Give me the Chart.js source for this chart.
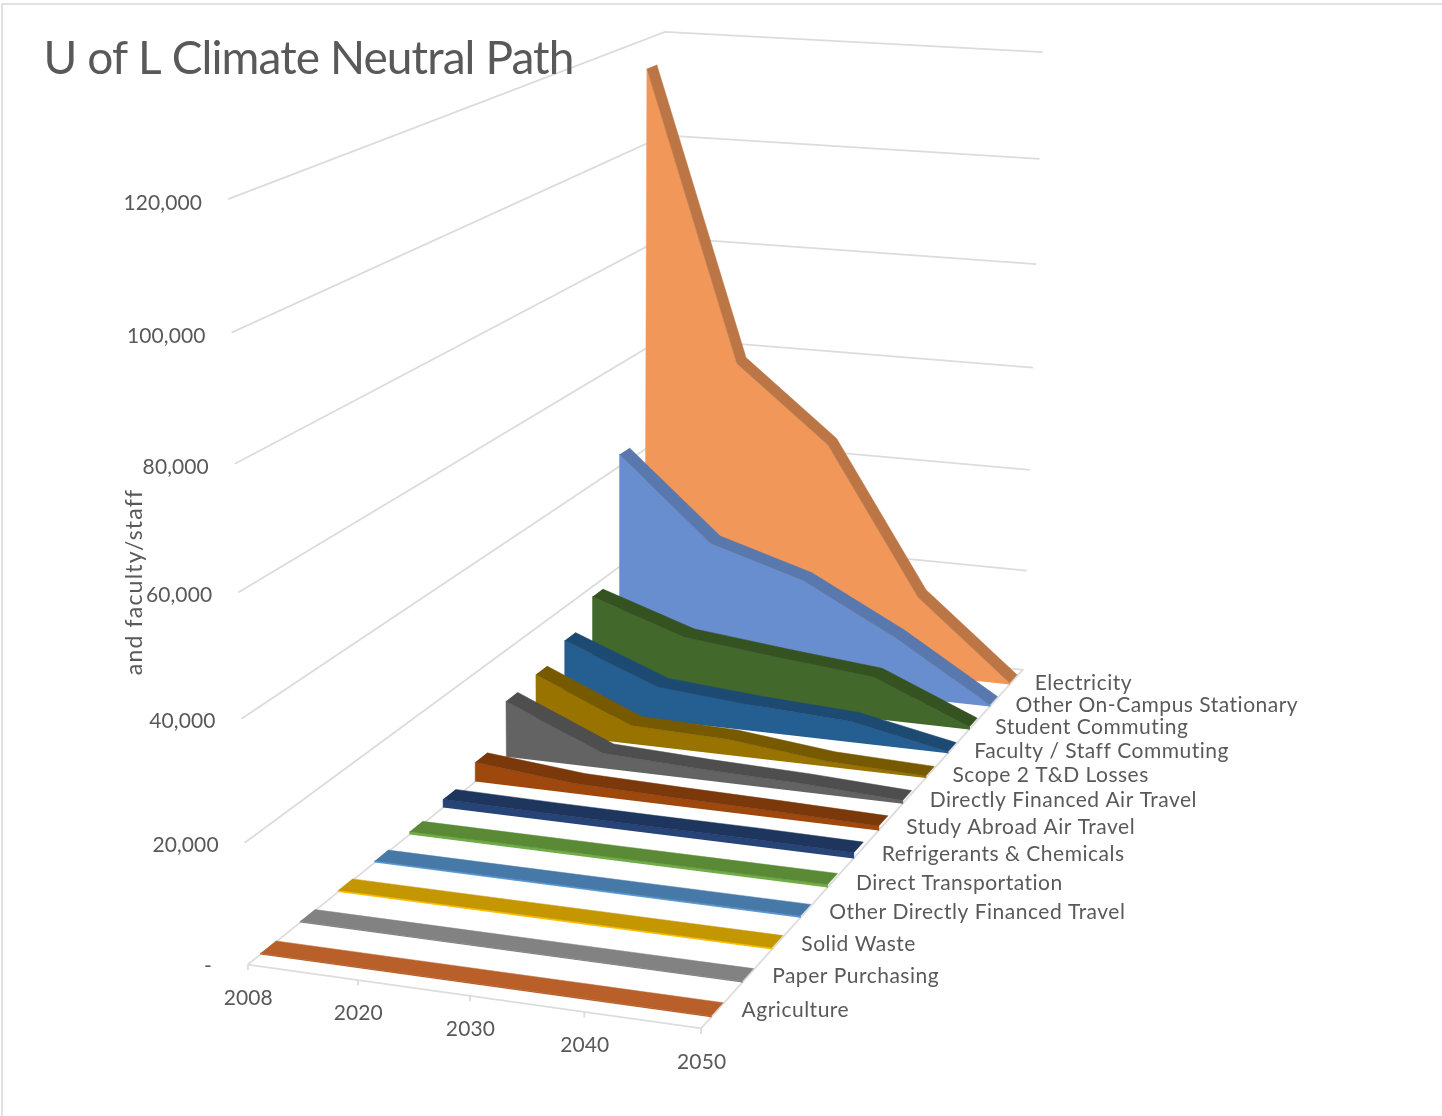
<!DOCTYPE html>
<html><head><meta charset="utf-8">
<style>html,body{margin:0;padding:0;background:#fff;overflow:hidden}canvas{display:block;filter:blur(0.5px)}</style>
<script src="https://cdn.jsdelivr.net/npm/chart.js@4"></script>
</head><body><canvas id="c" width="1442" height="1116"></canvas>
<script>
const years=['2008','2020','2030','2040','2050'];
const names=['Agriculture','Paper Purchasing','Solid Waste','Other Directly Financed Travel','Direct Transportation','Refrigerants & Chemicals','Study Abroad Air Travel','Directly Financed Air Travel','Scope 2 T&D Losses','Faculty / Staff Commuting','Student Commuting','Other On-Campus Stationary','Electricity'];
const agriculture=[200,200,200,200,200];
const paper=[200,200,200,200,200];
const solidWaste=[300,300,300,300,300];
const otherTravel=[300,300,300,300,300];
const directTransport=[500,500,500,500,500];
const refrigerants=[1500,1300,1200,1200,1000];
const studyAbroad=[3600,1900,1500,1200,800];
const directAir=[10500,2800,2000,1500,600];
const scope2=[11200,3500,3000,1000,400];
const faculty=[13500,6500,5000,4000,300];
const student=[18000,12000,10000,8200,500];
const otherCampus=[42300,26500,21000,11500,300];
const electricity=[114300,58500,44000,15500,300];
const seriesValues=[agriculture,paper,solidWaste,otherTravel,directTransport,refrigerants,studyAbroad,directAir,scope2,faculty,student,otherCampus,electricity];
const frontColors=['#B9602A','#828282','#FFC000','#5B9BD5','#70AD47','#264478','#9E480E','#636363','#997300','#255E91','#43682B','#698ED0','#F1975A'];
const topColors=['#B9602A','#828282','#C49600','#4679A8','#5A8A36','#1E355E','#7B380B','#4E4E4E','#775A00','#1D4A72','#355221','#5878AE','#BC7646'];
const valueTicks=[0,20000,40000,60000,80000,100000,120000];
const tickText=['-','20,000','40,000','60,000','80,000','100,000','120,000'];
const axisTitle='and faculty/staff';
const chartTitle='U of L Climate Neutral Path';

// camera: solve a projective map from the box corners of the plot
const VMAX=120000;
const corners=[[0,0,0,248,965],[1,0,0,701,1028],[0,1,0,662,631],[1,1,0,1023,670],[0,0,1,228,199],[1,1,1,1042,52],[0,1,1,665,32]];
function solveCamera(){
  const rows=[],rhs=[];
  corners.forEach(([u,d,v,x,y])=>{
    rows.push([u,d,v,1,0,0,0,0,-x*u,-x*d,-x*v]);rhs.push(x);
    rows.push([0,0,0,0,u,d,v,1,-y*u,-y*d,-y*v]);rhs.push(y);
  });
  const n=11,M=[];
  for(let i=0;i<n;i++){M[i]=[];for(let j=0;j<=n;j++){let s=0;rows.forEach((r,k)=>{s+=r[i]*(j<n?r[j]:rhs[k]);});M[i][j]=s;}}
  for(let i=0;i<n;i++){let p=i;for(let k=i+1;k<n;k++)if(Math.abs(M[k][i])>Math.abs(M[p][i]))p=k;[M[i],M[p]]=[M[p],M[i]];
    for(let k=0;k<n;k++){if(k===i)continue;const f=M[k][i]/M[i][i];for(let j=i;j<=n;j++)M[k][j]-=f*M[i][j];}}
  return M.map((r,i)=>r[n]/r[i]);
}
const P=solveCamera();
function project(u,d,val){const v=val/VMAX,w=P[8]*u+P[9]*d+P[10]*v+1;
  return {x:(P[0]*u+P[1]*d+P[2]*v+P[3])/w,y:(P[4]*u+P[5]*d+P[6]*v+P[7])/w};}

const N=seriesValues.length,GAP=0.31;
const uOf=i=>i/(years.length-1);
const dFront=i=>(i+GAP)/N,dBack=i=>(i+1-GAP)/N;
const base={type:'scatter',showLine:true,pointRadius:0,pointHoverRadius:0,tension:0};
const datasets=[];
seriesValues.forEach((vals,i)=>{
  const df=dFront(i),db=dBack(i);
  const front=[project(0,df,0),...vals.map((v,k)=>project(uOf(k),df,v)),project(1,df,0)];
  const top=[...vals.map((v,k)=>project(uOf(k),df,v)),...vals.map((v,k)=>project(uOf(k),db,v)).reverse()];
  datasets.push({...base,label:names[i]+' (top)',data:top,fill:'shape',backgroundColor:topColors[i],borderColor:topColors[i],borderWidth:0.5});
  datasets.push({...base,label:names[i],data:front,fill:'shape',backgroundColor:frontColors[i],borderColor:frontColors[i],borderWidth:0.5});
});
const gridStyle={...base,fill:false,borderColor:'#DCDCDC',borderWidth:1.8};
valueTicks.forEach(v=>datasets.push({...gridStyle,label:'grid '+v,data:[project(0,0,v),project(0,1,v),project(1.002,1,v)]}));
datasets.push({...gridStyle,label:'floor',data:[project(0,0,0),project(1,0,0),project(1,1,0)]});
years.forEach((y,k)=>datasets.push({...gridStyle,label:'tick '+y,data:[project(uOf(k),0,0),project(uOf(k),0,-900)]}));

const textPlugin={id:'texts',
 beforeDraw(ch){const c=ch.ctx;c.save();c.strokeStyle='#D9D9D9';c.lineWidth=1.5;c.beginPath();c.moveTo(2,1116);c.lineTo(2,4);c.lineTo(1442,4);c.stroke();c.restore();},
 afterDraw(ch){const c=ch.ctx;c.save();c.fillStyle='#595959';c.textBaseline='middle';
  c.font='46px Lato';c.letterSpacing='-0.9px';c.textAlign='left';c.fillText(chartTitle,43.5,59);
  c.font='21px Lato';c.letterSpacing='0.1px';
  c.textAlign='right';valueTicks.forEach((v,i)=>{const p=project(0,0,v);c.fillText(tickText[i],p.x-(v===0?36:26),p.y+1.5+3*v/VMAX);});
  c.textAlign='center';years.forEach((y,k)=>{const p=project(uOf(k),0,0);c.fillText(y,p.x+0.5,p.y+33.5);});
  c.letterSpacing='0.5px';
  c.textAlign='left';names.forEach((n,i)=>{const t=i/(N-1),p=project(1,(dFront(i)+dBack(i))/2,0);c.fillText(n,p.x+24.5-3*t,p.y+3*t);});
  c.font='23px Lato';c.letterSpacing='1.2px';
  c.translate(135,582);c.rotate(-Math.PI/2);c.textAlign='center';c.fillText(axisTitle,0,0);
  c.restore();}};

new Chart(document.getElementById('c'),{type:'scatter',data:{datasets},plugins:[textPlugin],options:{
  responsive:false,animation:false,events:[],layout:{padding:0},
  plugins:{legend:{display:false},tooltip:{enabled:false},title:{display:false}},
  scales:{x:{type:'linear',min:0,max:1442,display:false},y:{type:'linear',min:0,max:1116,reverse:true,display:false}}
}});
</script></body></html>
